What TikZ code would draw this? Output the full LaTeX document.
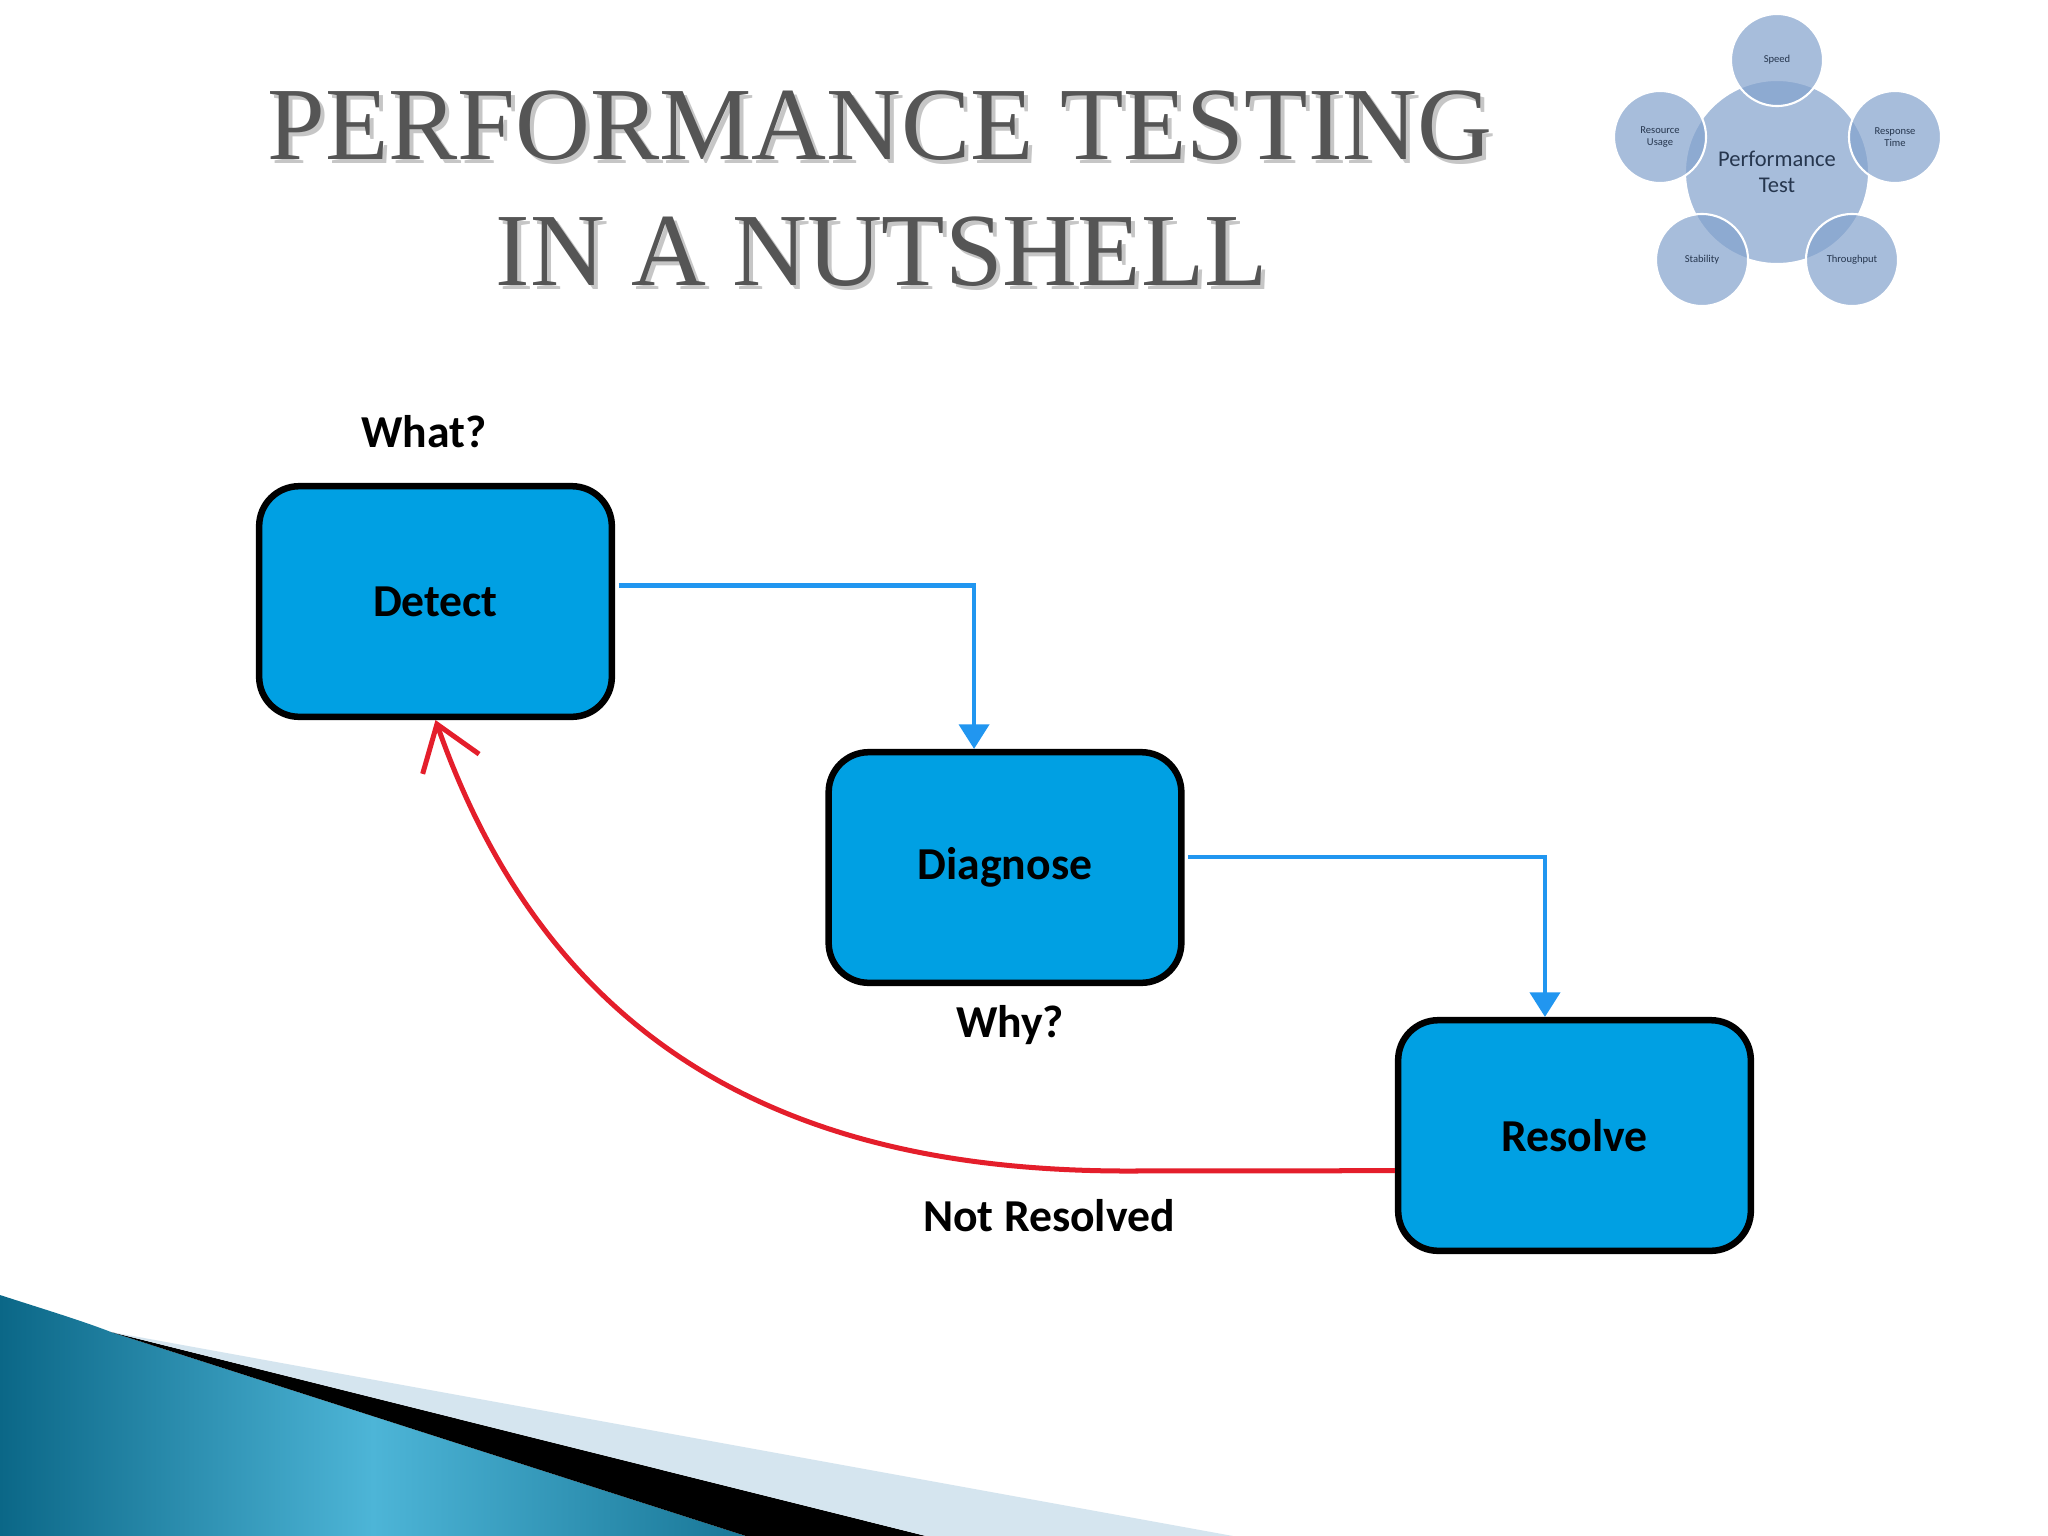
\documentclass[tikz,border=0pt]{standalone}
\usepackage{fontspec}
\setmainfont{Carlito}
\newfontfamily\titlefont{Liberation Serif}
\usetikzlibrary{arrows.meta}
\definecolor{boxblue}{HTML}{00A0E3}
\definecolor{linkblue}{HTML}{2196F0}
\definecolor{backred}{HTML}{E41E2B}
\definecolor{bubble}{HTML}{83A2CD}
\definecolor{bubbletext}{HTML}{26364E}
\definecolor{titlegray}{HTML}{555555}
\definecolor{tealdark}{HTML}{0B6787}
\definecolor{teallight}{HTML}{4DB5D7}
\definecolor{bandlight}{HTML}{D5E5EF}
\begin{document}
\begin{tikzpicture}[x=0.01cm,y=-0.01cm,
    stage/.style={draw=black,line width=0.065cm,fill=boxblue,rounded corners=0.4cm,
      minimum width=3.525cm,minimum height=2.305cm,font=\fontsize{13}{15}\selectfont\bfseries},
    tag/.style={font=\fontsize{13}{15}\selectfont\bfseries},
    flow/.style={draw=linkblue,line width=0.045cm,-{Triangle[length=7pt,width=8.5pt]}},
    back/.style={draw=backred,line width=0.05cm,-{Straight Barb[length=12pt,width=17pt]}},
    hub/.style={circle,fill=bubble,fill opacity=0.7,text opacity=1,draw=white,line width=0.6pt,
      inner sep=0pt,minimum size=1.84cm,align=center,text=bubbletext,font=\fontsize{6.4}{7.2}\selectfont},
    petal/.style={hub,minimum size=0.92cm,font=\fontsize{3}{3.5}\selectfont},
    heading/.style={anchor=base,text=titlegray,font=\titlefont\fontsize{29.5}{34}\selectfont}]
  \useasboundingbox (0,0) rectangle (2048,1536);
  \fill[white] (0,0) rectangle (2048,1536);
  % bottom swoosh
  \shade[left color=tealdark,right color=tealdark!80!teallight,middle color=teallight]
    (0,1295) .. controls (40,1308) and (80,1320) .. (111,1332) -- (746,1536) -- (0,1536) -- cycle;
  \fill[black] (111,1332) -- (926,1536) -- (746,1536) -- cycle;
  \fill[bandlight] (111,1332) -- (1233,1536) -- (926,1536) -- cycle;
  % title
  \node[heading,text=gray!45] (titleshadow) at (884,163) {PERFORMANCE TESTING};
  \node[heading] (title) at (880,159) {PERFORMANCE TESTING};
  \node[heading,text=gray!45] (subtitleshadow) at (886,289) {IN A NUTSHELL};
  \node[heading] (subtitle) at (882,285) {IN A NUTSHELL};
  % performance test bubbles
  \node[hub] (perf) at (1777,172) {Performance\\Test};
  \node[petal] (speed) at (1777,60) {Speed};
  \node[petal] (usage) at (1660,137) {Resource\\Usage};
  \node[petal] (response) at (1895,137) {Response\\Time};
  \node[petal] (stability) at (1702,260) {Stability};
  \node[petal] (throughput) at (1852,260) {Throughput};
  % stages
  \node[stage] (detect) at (435.5,601.5) {Detect};
  \node[stage] (diagnose) at (1005,867.5) {Diagnose};
  \node[stage] (resolve) at (1574.5,1135.5) {Resolve};
  \node[tag] (what) at (424,432) {What?};
  \node[tag] (why) at (1010,1025) {Why?};
  \node[tag] (notresolved) at (1049,1216) {Not Resolved};
  \coordinate (bend) at (1123,1171);
  \draw[flow] ([yshift=4.5pt,xshift=1pt]detect.east) -| ([xshift=-8.8pt]diagnose.north);
  \draw[flow] ([yshift=3pt,xshift=1pt]diagnose.east) -| ([xshift=-8.4pt]resolve.north);
  \draw[back] ([yshift=-10pt]resolve.west) -- (bend) .. controls (850,1170) and (565,1090) .. (detect.south);
\end{tikzpicture}
\end{document}
